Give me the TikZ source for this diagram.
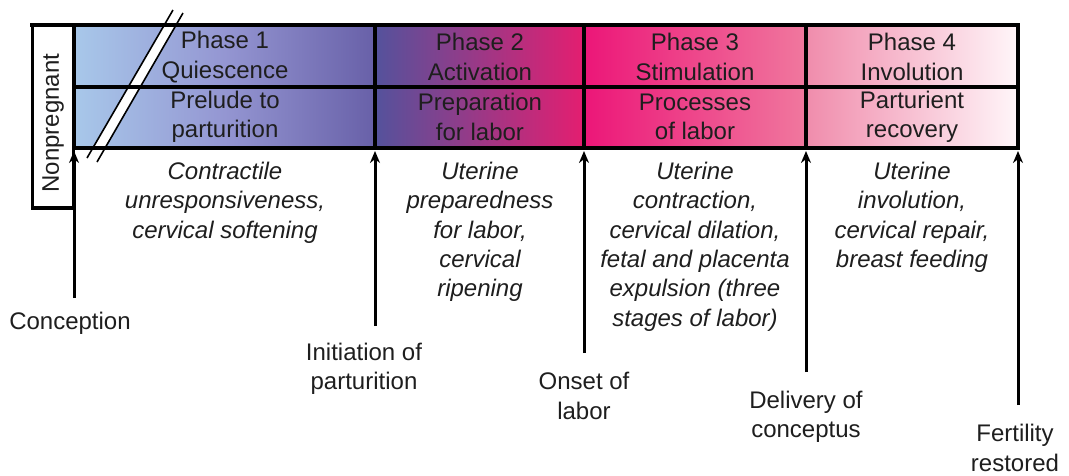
\documentclass[tikz,border=0pt]{standalone}
\usepackage{fontspec}
\setmainfont{Liberation Sans}
\usetikzlibrary{arrows.meta}
\definecolor{txt}{RGB}{30,30,30}
\definecolor{cA}{RGB}{168,200,234}
\definecolor{cB}{RGB}{148,150,210}
\definecolor{cC}{RGB}{104,96,168}
\definecolor{cD}{RGB}{84,82,156}
\definecolor{cE}{RGB}{228,30,112}
\definecolor{cF}{RGB}{236,22,120}
\definecolor{cG}{RGB}{240,120,158}
\definecolor{cH}{RGB}{240,140,172}
\definecolor{cI}{RGB}{255,246,249}
\tikzset{
  lbl/.style={text=txt, align=center, font=\fontsize{24}{29.3}\selectfont, inner sep=0pt},
  desc/.style={lbl, font=\fontsize{24}{29.3}\selectfont\itshape, anchor=north},
  tline/.style={line width=3.6pt, line cap=rect},
  arr/.style={line width=3pt, -{Stealth[length=12pt,width=10pt]}},
}
\begin{document}
\begin{tikzpicture}[x=1pt,y=-1pt]
\useasboundingbox (0,0) rectangle (1069,475);
% shaded cells
\shade[left color=cA, right color=cC, middle color=cB] (74,25) rectangle (375,148);
\shade[left color=cD, right color=cE] (375,25) rectangle (584,148);
\shade[left color=cF, right color=cG] (584,25) rectangle (806,148);
\shade[left color=cH, right color=cI] (806,25) rectangle (1018,148);
% slash
\fill[white] (87,158) -- (173,10) -- (183,13) -- (97,162) -- cycle;
\draw[line width=1.6pt] (87,158) -- (173,10);
\draw[line width=1.6pt] (97,162) -- (183,13);
% table lines
\draw[tline] (32,25) -- (1018,25);
\draw[tline] (74,87) -- (1018,87);
\draw[tline] (74,148) -- (1018,148);
\draw[tline] (74,25) -- (74,148);
\draw[tline] (375,25) -- (375,148);
\draw[tline] (584,25) -- (584,148);
\draw[tline] (806,25) -- (806,148);
\draw[tline] (1018,25) -- (1018,148);
% nonpregnant box
\node[draw, line width=3.6pt, minimum width=41pt, minimum height=183pt, inner sep=0pt] (np) at (53,116.5) {};
\node[lbl, rotate=90] (nptxt) at (53,123) {Nonpregnant};
% header texts
\node[lbl] (p1) at (225,57) {Phase 1\\Quiescence};
\node[lbl] (q1) at (225,117) {Prelude to\\parturition};
\node[lbl] (p2) at (480,57) {Phase 2\\Activation};
\node[lbl] (q2) at (480,117) {Preparation\\for labor};
\node[lbl] (p3) at (695,57) {Phase 3\\Stimulation};
\node[lbl] (q3) at (695,117) {Processes\\of labor};
\node[lbl] (p4) at (912,57) {Phase 4\\Involution};
\node[lbl] (q4) at (912,117) {Parturient\\recovery};
% descriptions
\node[desc] (d1) at (225,162) {Contractile\\unresponsiveness,\\cervical softening};
\node[desc] (d2) at (480,162) {Uterine\\preparedness\\for labor,\\cervical\\ripening};
\node[desc] (d3) at (695,162) {Uterine\\contraction,\\cervical dilation,\\fetal and placenta\\expulsion (three\\stages of labor)};
\node[desc] (d4) at (912,162) {Uterine\\involution,\\cervical repair,\\breast feeding};
% arrow bases and tips
\coordinate (b0) at (74,298); \coordinate (t0) at (74,151);
\coordinate (b1) at (375,326); \coordinate (t1) at (375,151);
\coordinate (b2) at (584,353); \coordinate (t2) at (584,151);
\coordinate (b3) at (806,372); \coordinate (t3) at (806,151);
\coordinate (b4) at (1018,405); \coordinate (t4) at (1018,151);
\draw[arr] (b0) -- (t0);
\draw[arr] (b1) -- (t1);
\draw[arr] (b2) -- (t2);
\draw[arr] (b3) -- (t3);
\draw[arr] (b4) -- (t4);
% event labels
\node[lbl] (e0) at (70,323) {Conception};
\node[lbl] (e1) at (364,369) {Initiation of\\parturition};
\node[lbl] (e2) at (584,396) {Onset of\\labor};
\node[lbl] (e3) at (806,417) {Delivery of\\conceptus};
\node[lbl] (e4) at (1015,448) {Fertility\\restored};
\end{tikzpicture}
\end{document}
